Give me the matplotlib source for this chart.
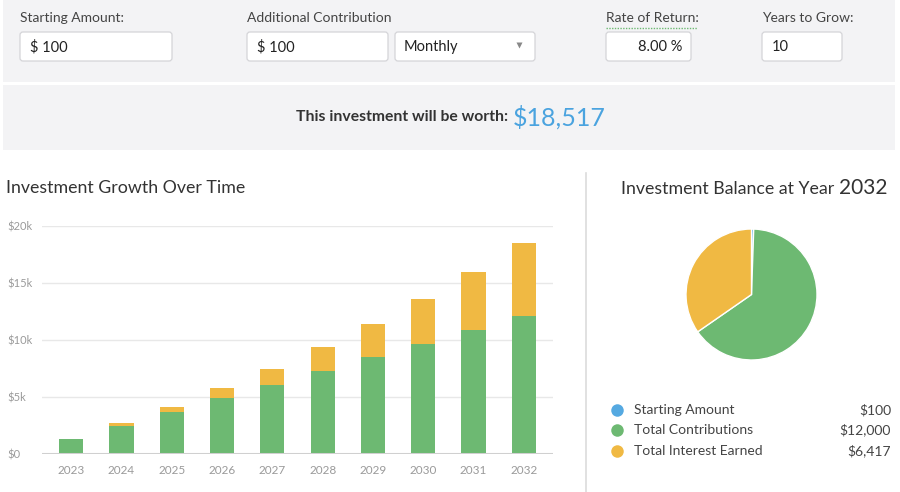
import matplotlib
matplotlib.use("Agg")
import matplotlib.pyplot as plt
from matplotlib.patches import FancyBboxPatch, Rectangle

plt.rcParams['font.family'] = ['Lato', 'DejaVu Sans']

# ---- data ----
years = ["2023", "2024", "2025", "2026", "2027", "2028", "2029", "2030", "2031", "2032"]
starting = [100, 100, 100, 100, 100, 100, 100, 100, 100, 100]
contributions = [1200, 2400, 3600, 4800, 6000, 7200, 8400, 9600, 10800, 12000]
interest = [53, 211, 481, 873, 1397, 2064, 2886, 3876, 5048, 6417]
yticks = [0, 5000, 10000, 15000, 20000]
ytick_labels = ["$0", "$5k", "$10k", "$15k", "$20k"]
pie_labels = ["Starting Amount", "Total Contributions", "Total Interest Earned"]
pie_values = [100, 12000, 6417]
pie_value_text = ["$100", "$12,000", "$6,417"]
total_text = "$18,517"

BLUE = "#55a9e1"
GREEN = "#6db972"
YELLOW = "#f0b943"
BAND = "#f3f3f5"

W, H = 900, 492
fig = plt.figure(figsize=(W / 100, H / 100), dpi=100)
fig.patch.set_facecolor("white")

# background / UI axes in pixel coordinates
bg = fig.add_axes([0, 0, 1, 1], zorder=0)
bg.set_xlim(0, W)
bg.set_ylim(H, 0)
bg.axis("off")

bg.add_patch(Rectangle((3, 0), 892, 82, facecolor=BAND, edgecolor="none"))
bg.add_patch(Rectangle((3, 85), 892, 65, facecolor=BAND, edgecolor="none"))


def box(x0, x1, y0=32, y1=61):
    bg.add_patch(FancyBboxPatch((x0, y0), x1 - x0, y1 - y0,
                                boxstyle="round,pad=0,rounding_size=3",
                                facecolor="white", edgecolor="#d4d4d8", lw=0.9))


lab_kw = dict(fontsize=10, color="#444444", va="center", ha="left")
val_kw = dict(fontsize=10.5, color="#222222", va="center")

bg.text(20, 18, "Starting Amount:", **lab_kw)
box(20, 172)
bg.text(30, 47, "$ 100", ha="left", **val_kw)

bg.text(247, 18, "Additional Contribution", **lab_kw)
box(247, 388)
bg.text(257, 47, "$ 100", ha="left", **val_kw)
box(395, 535)
bg.text(404, 47, "Monthly", ha="left", **val_kw)
bg.plot([519], [45], marker="v", ms=4, color="#888888", mec="none")

bg.text(606, 18, "Rate of Return:", **lab_kw)
bg.plot([606, 697], [28, 28], color=GREEN, lw=1, ls=(0, (1, 1)))
box(606, 691)
bg.text(682, 47, "8.00 %", ha="right", **val_kw)

bg.text(762, 18, "Years to Grow:", **lab_kw)
box(762, 842)
bg.text(772, 47, "10", ha="left", **val_kw)

bg.text(508, 117, "This investment will be worth:", ha="right", va="center",
        fontsize=11.3, fontweight="bold", color="#333333")
bg.text(513, 117, total_text, ha="left", va="center", fontsize=18, color="#4aa3df")

bg.text(6, 188, "Investment Growth Over Time", ha="left", va="center",
        fontsize=12.8, color="#333333")

bg.plot([586, 586], [173, 492], color="#dcdcdc", lw=1.2)

bg.text(834, 189, "Investment Balance at Year", ha="right", va="center",
        fontsize=12.8, color="#333333")
bg.text(887, 188, "2032", ha="right", va="center", fontsize=15, color="#333333")

# legend of pie
leg_y = [410, 430, 451]
for lbl, col, vt, yy in zip(pie_labels, [BLUE, GREEN, YELLOW], pie_value_text, leg_y):
    bg.plot([617], [yy], marker="o", ms=9, color=col, mec="none")
    bg.text(634, yy, lbl, ha="left", va="center", fontsize=10, color="#444444")
    bg.text(891, yy, vt, ha="right", va="center", fontsize=10, color="#444444")

# ---- bar chart ----
ax = fig.add_axes([42 / W, 1 - 454.3 / H, 511 / W, 228.3 / H], zorder=2)
ax.set_facecolor("none")
x = list(range(len(years)))
bw = 0.48
green_bottom = starting
yellow_bottom = [s + c for s, c in zip(starting, contributions)]
ax.bar(x, starting, width=bw, color=BLUE, zorder=3)
ax.bar(x, contributions, width=bw, bottom=green_bottom, color=GREEN, zorder=3)
ax.bar(x, interest, width=bw, bottom=yellow_bottom, color=YELLOW, zorder=3)
ax.set_xlim(-0.58, 9.58)
ax.set_ylim(0, 20000)
for t in yticks[1:]:
    ax.axhline(t, color="#e8e8e8", lw=1, zorder=1)
ax.axhline(0, color="#d0d0d0", lw=2.2, zorder=4)
for s in ax.spines.values():
    s.set_visible(False)
ax.set_yticks(yticks)
ax.set_yticklabels(ytick_labels)
ax.set_xticks(x)
ax.set_xticklabels(years)
ax.tick_params(axis="y", length=0, pad=25.2, labelsize=8, labelcolor="#9a9a9a")
for lab in ax.get_yticklabels():
    lab.set_horizontalalignment("left")
ax.tick_params(axis="x", length=0, pad=8, labelsize=8.5, labelcolor="#9a9a9a")

# ---- pie ----
pax = fig.add_axes([(751.5 - 65.5) / W, 1 - 360 / H, 131 / W, 131 / H], zorder=2)
pax.pie(pie_values, colors=[BLUE, GREEN, YELLOW], startangle=90, counterclock=False,
        wedgeprops=dict(edgecolor="white", linewidth=1))
pax.set_xlim(-1, 1)
pax.set_ylim(-1, 1)
pax.set_aspect("auto")
pax.axis("off")

fig.savefig("out.png", dpi=100, facecolor="white")
